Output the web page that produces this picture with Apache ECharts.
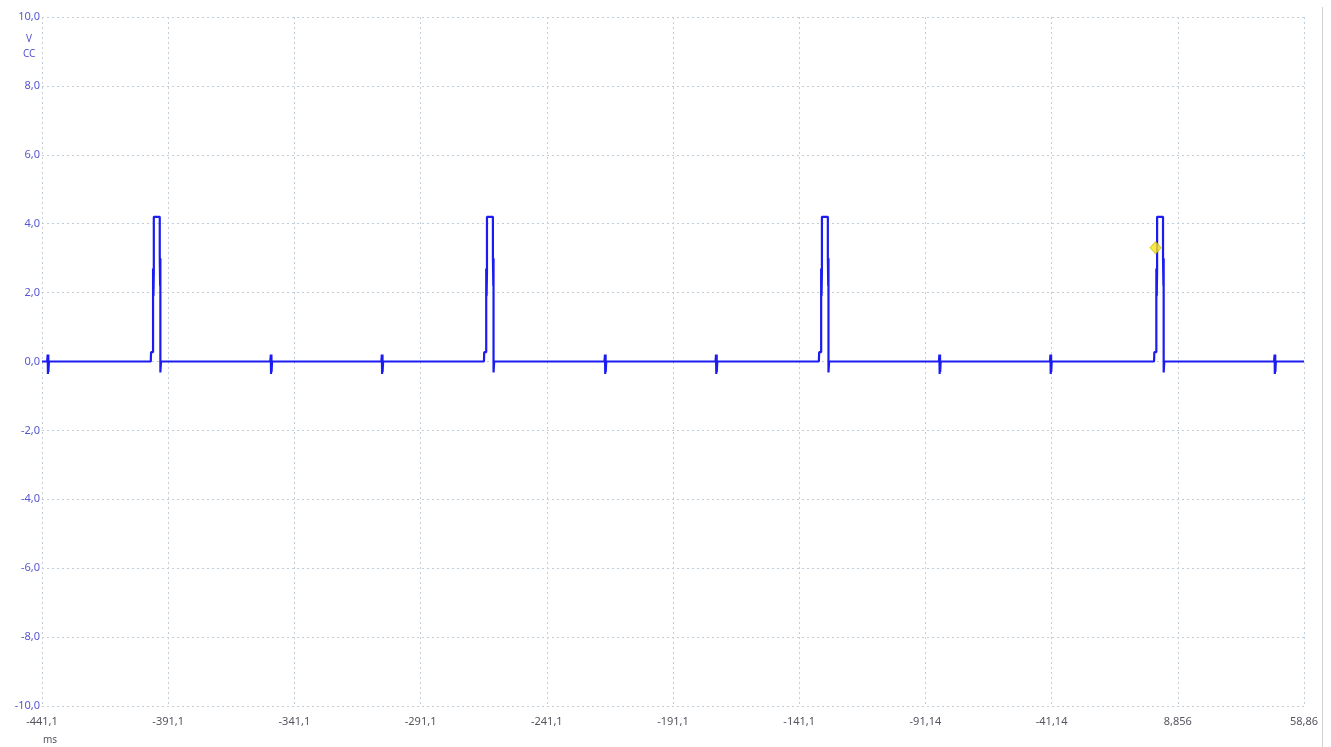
<!DOCTYPE html>
<html>
<head>
<meta charset="utf-8">
<title>scope</title>
<script src="https://cdn.jsdelivr.net/npm/echarts@6/dist/echarts.min.js"></script>
<style>
  html, body { margin: 0; padding: 0; background: #fff; }
  #main { width: 1331px; height: 747px; }
</style>
</head>
<body>
<div id="main"></div>
<script>
  // tick labels as shown by the scope software
  var xTickLabels = ['-441,1', '-391,1', '-341,1', '-291,1', '-241,1', '-191,1', '-141,1', '-91,14', '-41,14', '8,856', '58,86'];
  var yTickLabels = ['-10,0', '-8,0', '-6,0', '-4,0', '-2,0', '0,0', '2,0', '4,0', '6,0', '8,0', '10,0'];

  // time in ms from the left edge of the window (-441,1 ms)
  var pulseRise = [44.2, 176.2, 308.9, 441.7];
  // one pulse: [ms from rise, volts]
  var pulseShape = [[-1.1, 0], [-1.0, 0.27], [-0.2, 0.27], [-0.2, 2.7], [-0.05, 1.9], [0.1, 2.6], [0.1, 4.2],
    [2.45, 4.2], [2.45, 3.0], [2.6, 2.2], [2.7, 3.0], [2.7, -0.32], [2.85, -0.32], [2.95, 0]];
  // small glitches on the zero line
  var glitchTimes = [2.4, 90.8, 134.8, 223.2, 267.2, 355.7, 399.7, 488.5];
  var glitchShape = [[-0.35, 0], [-0.15, 0.2], [-0.05, -0.36], [0.1, 0.2], [0.15, -0.3], [0.35, 0]];
  // yellow trigger marker
  var cursorPoint = [441.2, 3.3];

  // build the trace
  var events = [];
  pulseRise.forEach(function (t) { events.push({t: t, shape: pulseShape}); });
  glitchTimes.forEach(function (t) { events.push({t: t, shape: glitchShape}); });
  events.sort(function (a, b) { return a.t - b.t; });
  var trace = [[0, 0]];
  events.forEach(function (e) {
    e.shape.forEach(function (p) { trace.push([e.t + p[0], p[1]]); });
  });
  trace.push([500, 0]);

  var blueLbl = '#5656d2';
  var grayLbl = '#55555f';
  var gridColor = '#c3cfd8';

  var myChart = echarts.init(document.getElementById('main'));
  myChart.setOption({
    animation: false,
    grid: {left: 42, right: 27, top: 17, bottom: 41},
    xAxis: {
      type: 'value',
      min: 0,
      max: 500,
      interval: 50,
      axisLine: {show: false},
      axisTick: {show: false},
      axisLabel: {
        margin: 10,
        color: grayLbl,
        fontFamily: 'Noto Sans',
        fontSize: 11,
        showMinLabel: true,
        showMaxLabel: true,
        formatter: function (v) { return xTickLabels[Math.round(v / 50)]; }
      },
      splitLine: {show: true, lineStyle: {color: gridColor, type: [2, 3], width: 1}}
    },
    yAxis: {
      type: 'value',
      min: -10,
      max: 10,
      interval: 2,
      axisLine: {show: false},
      axisTick: {show: false},
      axisLabel: {
        margin: 2,
        color: blueLbl,
        fontFamily: 'Noto Sans',
        fontSize: 11,
        formatter: function (v) { return yTickLabels[Math.round((v + 10) / 2)]; }
      },
      splitLine: {show: true, lineStyle: {color: gridColor, type: [2, 3], width: 1}}
    },
    graphic: [
      {type: 'text', left: 26, top: 34, style: {text: 'V', fill: blueLbl, font: '10px "Noto Sans"'}},
      {type: 'text', left: 23, top: 49, style: {text: 'CC', fill: blueLbl, font: '10px "Noto Sans"'}},
      {type: 'text', left: 43, top: 735, style: {text: 'ms', fill: grayLbl, font: '10px "Noto Sans"'}},
      {type: 'line', shape: {x1: 1322.5, y1: 7, x2: 1322.5, y2: 747}, style: {stroke: '#d0d0d0', lineWidth: 1}}
    ],
    series: [
      {
        type: 'line',
        data: trace,
        showSymbol: false,
        symbol: 'none',
        smooth: false,
        color: '#1c1cf2',
        lineStyle: {width: 2.2, color: '#1c1cf2'}
      },
      {
        type: 'scatter',
        data: [cursorPoint],
        symbol: 'diamond',
        symbolSize: [11, 12],
        itemStyle: {color: '#f4e41a', borderColor: '#d6c400', borderWidth: 1},
        z: 5
      }
    ]
  });
</script>
</body>
</html>
